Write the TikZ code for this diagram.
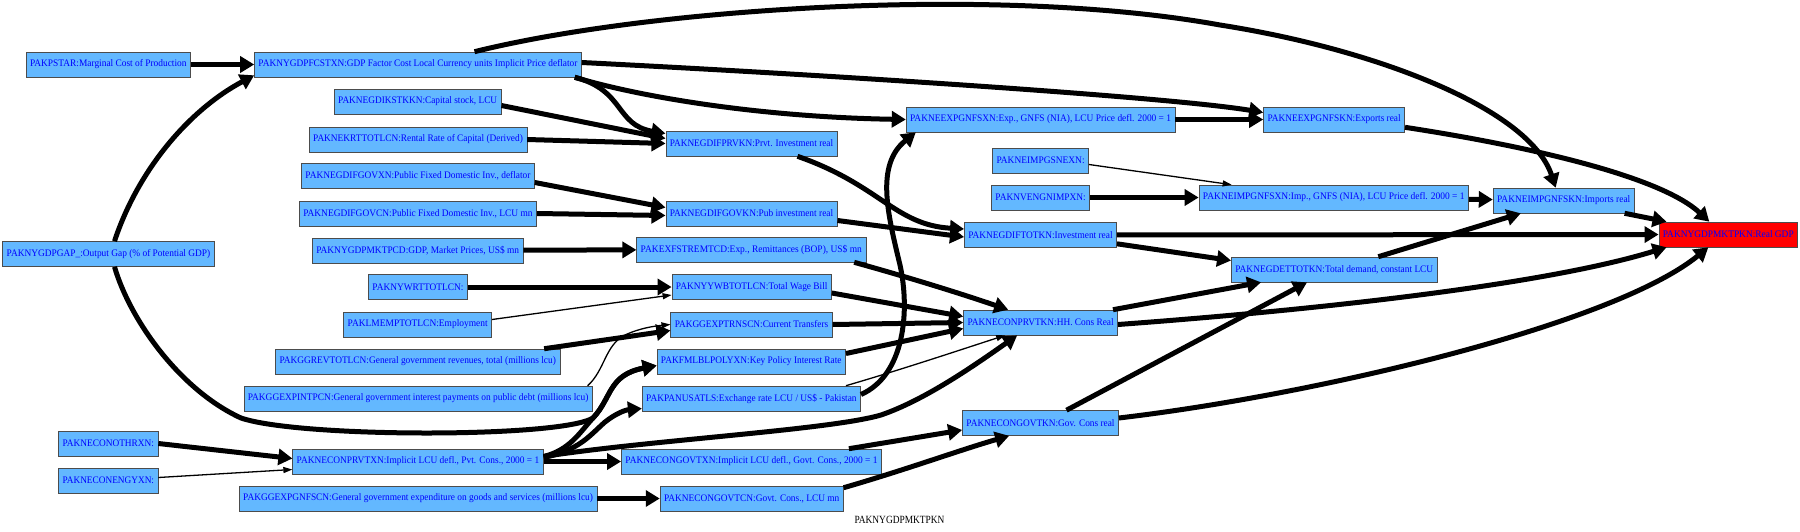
\documentclass[tikz,border=0pt]{standalone}
\usepackage{fontspec}
\setmainfont{Liberation Serif}
\usepackage{graphicx}
\usetikzlibrary{arrows.meta,calc}
\definecolor{boxblue}{HTML}{63B8FF}
\tikzset{
  box/.style={draw=black!70, line width=0.6pt, minimum height=25pt, inner sep=0pt, text=blue, font=\fontsize{10}{10}\selectfont},
  thk/.style={line width=5pt, -{Triangle[length=14pt,width=16pt]}},
  thn/.style={line width=1.3pt, -{Triangle[length=9pt,width=6pt]}},
}
\newcommand\mynode[6][boxblue]{\node[box, fill=#1, minimum width=#5pt] (#2) at (#3,#4) {\resizebox{\dimexpr #5pt-8pt\relax}{\height}{#6}};}
\begin{document}
\begin{tikzpicture}[x=1pt,y=-1pt]
\useasboundingbox (0,0) rectangle (1800,531);
% column 1
\mynode{pstar}{108.3}{64.5}{164.6}{PAKPSTAR:Marginal Cost of Production}
\mynode{gap}{108.5}{254}{211.6}{PAKNYGDPGAP\_:Output Gap (\% of Potential GDP)}
\mynode{othrxn}{108.3}{443.5}{99.5}{PAKNECONOTHRXN:}
\mynode{engyxn}{108.3}{480.5}{99.5}{PAKNECONENGYXN:}
% column 2
\mynode{fcstxn}{418}{64.5}{327}{PAKNYGDPFCSTXN:GDP Factor Cost Local Currency units Implicit Price deflator}
\mynode{kstkkn}{417.7}{101.5}{167}{PAKNEGDIKSTKKN:Capital stock, LCU}
\mynode{krt}{418}{139.5}{217.7}{PAKNEKRTTOTLCN:Rental Rate of Capital (Derived)}
\mynode{govxn}{418}{175.5}{233}{PAKNEGDIFGOVXN:Public Fixed Domestic Inv., deflator}
\mynode{govcn}{417.9}{213.5}{237.3}{PAKNEGDIFGOVCN:Public Fixed Domestic Inv., LCU mn}
\mynode{mktpcd}{417.7}{250.5}{210.8}{PAKNYGDPMKTPCD:GDP, Market Prices, US\$ mn}
\mynode{wrt}{418}{287}{99.1}{PAKNYWRTTOTLCN:}
\mynode{lmemp}{417.7}{324.5}{148.1}{PAKLMEMPTOTLCN:Employment}
\mynode{ggrev}{417.7}{361.5}{284.3}{PAKGGREVTOTLCN:General government revenues, total (millions lcu)}
\mynode{ggint}{418.1}{398.5}{348.6}{PAKGGEXPINTPCN:General government interest payments on public debt (millions lcu)}
\mynode{prvtxn}{418}{461.5}{250.7}{PAKNECONPRVTXN:Implicit LCU defl., Pvt. Cons., 2000 = 1}
\mynode{gnfscn}{418.1}{498.5}{357.8}{PAKGGEXPGNFSCN:General government expenditure on goods and services (millions lcu)}
% column 3
\mynode{prvkn}{751.5}{143.5}{171.4}{PAKNEGDIFPRVKN:Prvt. Investment real}
\mynode{govkn}{751.5}{213.5}{171.4}{PAKNEGDIFGOVKN:Pub investment real}
\mynode{remtcd}{751.3}{249.5}{229.2}{PAKEXFSTREMTCD:Exp., Remittances (BOP), US\$ mn}
\mynode{yywb}{751.7}{287}{159.6}{PAKNYYWBTOTLCN:Total Wage Bill}
\mynode{trns}{751.5}{324.5}{161.5}{PAKGGEXPTRNSCN:Current Transfers}
\mynode{poly}{751.3}{361.5}{188.7}{PAKFMLBLPOLYXN:Key Policy Interest Rate}
\mynode{panus}{751.4}{398.5}{218.5}{PAKPANUSATLS:Exchange rate LCU / US\$ - Pakistan}
\mynode{govtxn}{751.5}{461.5}{260.2}{PAKNECONGOVTXN:Implicit LCU defl., Govt. Cons., 2000 = 1}
\mynode{govtcn}{751.7}{498.5}{183.3}{PAKNECONGOVTCN:Govt. Cons., LCU mn}
% column 4
\mynode{expxn}{1040.6}{119.5}{269}{PAKNEEXPGNFSXN:Exp., GNFS (NIA), LCU Price defl. 2000 = 1}
\mynode{sneexn}{1040.6}{160.5}{96.1}{PAKNEIMPGSNEXN:}
\mynode{nveng}{1040.6}{197.5}{98.3}{PAKNVENGNIMPXN:}
\mynode{totkn}{1040.5}{235}{152.3}{PAKNEGDIFTOTKN:Investment real}
\mynode{prvtkn}{1040.6}{322.5}{154.2}{PAKNECONPRVTKN:HH. Cons Real}
\mynode{govtkn}{1040.5}{423}{156.1}{PAKNECONGOVTKN:Gov. Cons real}
% columns 5-7
\mynode{expkn}{1334.1}{119.5}{141.2}{PAKNEEXPGNFSKN:Exports real}
\mynode{impxn}{1333.8}{197.5}{269.7}{PAKNEIMPGNFSXN:Imp., GNFS (NIA), LCU Price defl. 2000 = 1}
\mynode{dettot}{1334.3}{269.5}{205.9}{PAKNEGDETTOTKN:Total demand, constant LCU}
\mynode{impkn}{1563.7}{200.5}{141.2}{PAKNEIMPGNFSKN:Imports real}
\mynode[red]{gdp}{1728.3}{234.5}{138.9}{PAKNYGDPMKTPKN:Real GDP}
\node[font=\fontsize{11}{11}\selectfont, inner sep=0pt] (lbl) at (899.5,519.5) {\resizebox{90pt}{\height}{PAKNYGDPMKTPKN}};
% edges
\draw[thk] (pstar) -- (fcstxn);
\draw[thk] ($(gap.north)+(6,0)$) .. controls (138,170) and (189,110) .. ($(fcstxn.south west)+(0,-2)$);
\draw[thk] ($(gap.south)+(6,0)$) .. controls (130,320) and (180,390) .. (241,418) .. controls (300,438) and (560,438) .. (593,418) .. controls (612,398) and (608,375) .. ($(poly.west)+(0,4)$);
\draw[thk] ($(fcstxn.north)+(56.5,0)$) .. controls (650,8) and (1000,-15) .. (1220,25) .. controls (1380,50) and (1530,110) .. ($(impkn.north)+(-8,0)$);
\draw[thk] ($(fcstxn.east)+(0,-2)$) .. controls (830,75) and (1170,97) .. ($(expkn.west)+(0,-7)$);
\draw[thk] ($(fcstxn.south east)+(-7,0)$) .. controls (640,97) and (760,117) .. (expxn.west);
\draw[thk] ($(fcstxn.south east)+(-7,0)$) .. controls (625,90) and (615,125) .. ($(prvkn.west)+(0,-10)$);
\draw[thk] ($(kstkkn.east)+(0,4)$) -- ($(prvkn.west)+(0,-5)$);
\draw[thk] (krt.east) -- (prvkn.west);
\draw[thk] ($(govxn.east)+(0,7)$) -- ($(govkn.west)+(0,-6)$);
\draw[thk] (govcn.east) -- ($(govkn.west)+(0,2)$);
\draw[thk] (mktpcd) -- (remtcd);
\draw[thk] (wrt) -- (yywb);
\draw[thn] ($(lmemp.east)+(0,-5)$) -- ($(yywb.west)+(0,8)$);
\draw[thk] ($(ggrev.north east)+(-16,0)$) -- ($(trns.west)+(0,6)$);
\draw[thn] ($(ggint.north east)+(-5,0)$) .. controls (605,370) and (605,345) .. (625,335) .. controls (640,328) and (655,326) .. (trns.west);
\draw[thk] (othrxn.east) -- ($(prvtxn.west)+(0,-3)$);
\draw[thn] ($(engyxn.east)+(0,-3)$) -- ($(prvtxn.west)+(0,8)$);
\draw[thk] (gnfscn) -- (govtcn);
\draw[thk] (prvtxn.east) -- (govtxn.west);
\draw[thk] ($(prvtxn.east)+(0,-5)$) .. controls (570,450) and (580,432) .. (593,418) .. controls (612,398) and (608,375) .. ($(poly.west)+(0,4)$);
\draw[thk] ($(prvtxn.east)+(0,-4)$) .. controls (580,450) and (590,435) .. (605,422) .. controls (615,414) and (625,410) .. ($(panus.west)+(0,10)$);
\draw[thk] ($(prvtxn.east)+(0,-5)$) .. controls (650,440) and (830,430) .. (881,415) .. controls (925,400) and (975,365) .. ($(prvtkn.south west)+(54,0)$);
\draw[thk] ($(govtxn.north east)+(-33,0)$) -- ($(govtkn.west)+(0,7)$);
\draw[thk] ($(govtcn.north east)+(0,2)$) .. controls (905,470) and (960,450) .. ($(govtkn.south west)+(47,0)$);
\draw[thk] ($(prvkn.south east)+(-40,0)$) .. controls (880,185) and (895,225) .. ($(totkn.west)+(0,-6)$);
\draw[thk] ($(govkn.east)+(0,7)$) -- ($(totkn.west)+(0,2)$);
\draw[thk] ($(remtcd.south east)+(-12,0)$) .. controls (900,275) and (950,290) .. ($(prvtkn.north west)+(45,0)$);
\draw[thk] ($(yywb.east)+(0,6)$) -- ($(prvtkn.west)+(0,-6)$);
\draw[thk] (trns.east) -- (prvtkn.west);
\draw[thk] ($(poly.east)+(0,-8)$) -- ($(prvtkn.west)+(0,6)$);
\draw[thn] ($(panus.north east)+(-15,0)$) .. controls (900,370) and (960,350) .. ($(prvtkn.south west)+(42,0)$);
\draw[thk] ($(panus.east)+(0,-4)$) .. controls (905,375) and (910,310) .. (900,265) .. controls (888,215) and (875,165) .. ($(expxn.south west)+(10,0)$);
\draw[thk] (expxn) -- (expkn);
\draw[thn] ($(sneexn.east)+(0,4)$) -- ($(impxn.north west)+(33,0)$);
\draw[thk] (nveng) -- (impxn);
\draw[thk] (impxn) -- (impkn);
\draw[thk] ($(expkn.south east)+(0,-5)$) .. controls (1521,145) and (1659,175) .. ($(gdp.north)+(-19,0)$);
\draw[thk] ($(impkn.south east)+(-10,0)$) -- ($(gdp.north west)+(8,0)$);
\draw[thk] (totkn) -- (gdp);
\draw[thk] ($(totkn.south east)+(0,-4)$) -- ($(dettot.west)+(0,-9)$);
\draw[thk] ($(dettot.north)+(44,0)$) -- ($(impkn.south west)+(28,0)$);
\draw[thk] ($(prvtkn.north east)+(-5,0)$) -- ($(dettot.south west)+(30,0)$);
\draw[thk] ($(prvtkn.east)+(0,2)$) .. controls (1315,310) and (1544,285) .. ($(gdp.south west)+(8,0)$);
\draw[thk] ($(govtkn.north)+(26,0)$) -- ($(dettot.south west)+(76,0)$);
\draw[thk] ($(govtkn.east)+(0,-5)$) .. controls (1315,395) and (1613,325) .. ($(gdp.south)+(-20,0)$);
\end{tikzpicture}
\end{document}
